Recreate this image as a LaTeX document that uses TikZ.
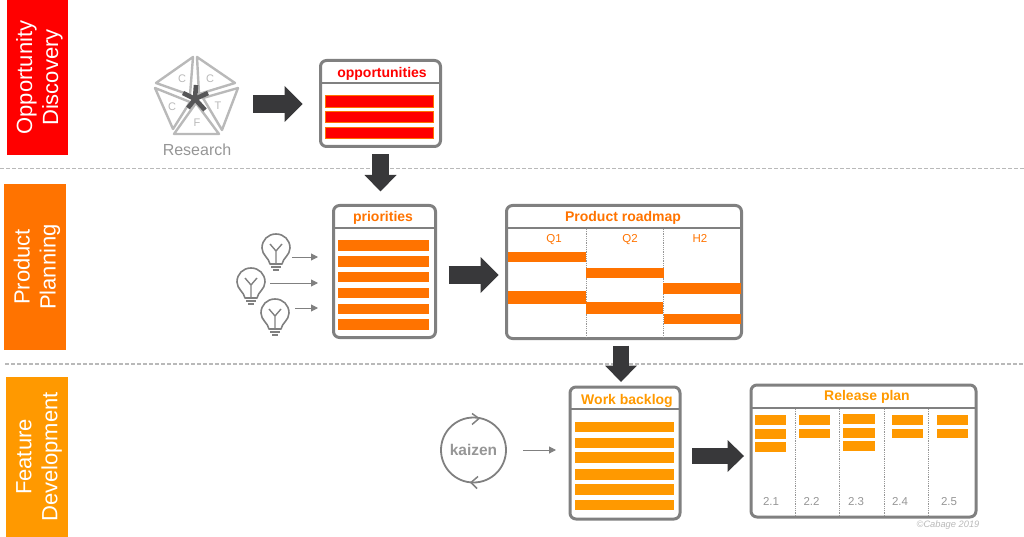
\documentclass[tikz,border=0pt]{standalone}
\usepackage{fontspec}
\setmainfont{Liberation Sans}
\usetikzlibrary{arrows.meta}
\definecolor{stagered}{RGB}{255,0,0}
\definecolor{stageorange}{RGB}{255,115,0}
\definecolor{stageamber}{RGB}{255,153,0}
\definecolor{ink}{RGB}{56,56,58}
\definecolor{frame}{RGB}{128,128,128}
\definecolor{muted}{RGB}{150,150,150}
\definecolor{pale}{RGB}{185,185,185}

\begin{document}
\begin{tikzpicture}[
  x=1pt, y=-1pt,
  stagebox/.style={rectangle, inner sep=0pt},
  stagelabel/.style={rotate=90, inner sep=0pt, text=white, align=center,
    font=\fontsize{22}{26}\selectfont},
  card/.style={rectangle, rounded corners=6pt, draw=frame, line width=3pt, outer sep=0pt, inner sep=0pt},
  cardtitle/.style={font=\fontsize{14}{16}\selectfont\bfseries, inner sep=0pt, yshift=-2pt},
  divider/.style={draw=frame, line width=1.7pt},
  column/.style={draw=muted, line width=0.8pt, densely dotted},
  collabel/.style={font=\fontsize{11.5}{13}\selectfont, inner sep=0pt, text height=8pt, text depth=0pt},
  bigarrow/.style={-{Triangle[length=18pt,width=36pt,line width=0pt]}, draw=ink, line width=18pt},
  smallarrow/.style={-{Triangle[length=16.5pt,width=32pt,line width=0pt]}, draw=ink, line width=16.5pt},
  thinarrow/.style={-{Triangle[length=7pt,width=7pt]}, draw=frame, line width=1pt},
  section/.style={draw=pale, line width=1.3pt, dash pattern=on 4pt off 2pt},
  petal/.style={draw=pale, line width=2.4pt, line join=round},
  spoke/.style={draw=ink!85, line width=4.6pt},
  letter/.style={font=\fontsize{11}{13}\selectfont, text=pale, inner sep=0pt},
  bulbspot/.style={circle, minimum size=32pt, inner sep=0pt, outer sep=0pt},
  bulb/.pic={
    \draw[frame, line width=1.6pt, line join=round] (-6,16) .. controls (-7,10) and (-14,7) .. (-14,0)
      .. controls (-14,-8) and (-8,-14) .. (0,-14) .. controls (8,-14) and (14,-8) .. (14,0)
      .. controls (14,7) and (7,10) .. (6,16) -- cycle;
    \draw[frame, line width=1.4pt] (-6,-4) -- (0,3) -- (6,-4) (0,3) -- (0,16);
    \draw[frame, line width=1.8pt] (-5,19) -- (5,19) (-3,22) -- (3,22);
  }
]
\useasboundingbox (0,0) rectangle (1024,537);

% swimlanes
\node[stagebox, fill=stagered, minimum height=155pt, minimum width=61pt] (discovery) at (37.5,77.5) {};
\node[stagelabel] (discoverylabel) at (39.5,77.5) {Opportunity\\Discovery};
\node[stagebox, fill=stageorange, minimum height=166pt, minimum width=62pt] (planning) at (35,267) {};
\node[stagelabel] (planninglabel) at (37,267) {Product\\Planning};
\node[stagebox, fill=stageamber, minimum height=160pt, minimum width=62pt] (development) at (37,457) {};
\node[stagelabel] (developmentlabel) at (39,457) {Feature\\Development};
\draw[section] (0,168.5) -- (1024,168.5);
\draw[section] (5,364) -- (1024,364);

% research
\node[minimum size=82pt, inner sep=0pt, outer sep=0pt] (research) at (197,104) {};
\draw[petal] (193,57) -- (156,83) -- (190,95) -- cycle;
\draw[petal] (197,57) -- (235,83) -- (199,94) -- cycle;
\draw[petal] (238,88) -- (222,130) -- (203,98) -- cycle;
\draw[petal] (219,134) -- (174,134) -- (196,103) -- cycle;
\draw[petal] (155,88) -- (173,129) -- (190,102) -- cycle;
\foreach \sx/\sy in {196/85, 208/93, 205/110, 188/108, 183/93}
  \draw[spoke] (195,99) -- (\sx,\sy);
\node[letter] (cA) at (182,79) {C};
\node[letter] (cB) at (210,79) {C};
\node[letter] (tA) at (218,106) {T};
\node[letter] (fA) at (197,123) {F};
\node[letter] (cC) at (172,107) {C};
\node[font=\fontsize{16}{18}\selectfont, text=muted, inner sep=0pt] (researchlabel) at (197,150) {Research};

% opportunities
\node[card, minimum width=120pt, minimum height=86pt] (opps) at (380.5,103.5) {};
\draw[divider] (opps.west |- 0,83) -- (opps.east |- 0,83);
\node[cardtitle, text=stagered] (oppstitle) at (382,72) {opportunities};
\foreach \ya/\yb in {95/107, 111/122, 127/138}
  \filldraw[fill=stagered, draw=stageorange, line width=0.5pt] (325.5,\ya) rectangle (433,\yb);

% priorities
\node[card, minimum width=102pt, minimum height=132pt] (prior) at (384.5,271.5) {};
\draw[divider] (prior.west |- 0,228) -- (prior.east |- 0,228);
\node[cardtitle, text=stageorange] (priortitle) at (383,216) {priorities};
\foreach \ya/\yb in {240/251, 256/267, 272/282, 288/298, 304/314, 319/330}
  \fill[stageorange] (338,\ya) rectangle (429,\yb);
\pic at (276,248) {bulb};
\pic at (251,282) {bulb};
\pic at (275,313) {bulb};
\node[bulbspot] (bulbA) at (276,248) {};
\node[bulbspot] (bulbB) at (251,282) {};
\node[bulbspot] (bulbC) at (275,313) {};
\coordinate (inA) at (318,257);
\coordinate (inB) at (318,283);
\coordinate (inC) at (318,308);
\draw[thinarrow] (bulbA.east |- inA) -- (inA);
\draw[thinarrow, shorten <=3pt] (bulbB.east |- inB) -- (inB);
\draw[thinarrow, shorten <=4pt] (bulbC.east |- inC) -- (inC);

% roadmap
\node[card, minimum width=235pt, minimum height=133pt] (roadmap) at (624,272) {};
\draw[divider] (roadmap.west |- 0,228) -- (roadmap.east |- 0,228);
\node[cardtitle, text=stageorange] (roadmaptitle) at (623,216) {Product roadmap};
\draw[column] (586,229) -- (586,338);
\draw[column] (663,229) -- (663,338);
\node[collabel, text=stageorange] (qA) at (554,239) {Q1};
\node[collabel, text=stageorange] (qB) at (630,239) {Q2};
\node[collabel, text=stageorange] (hB) at (700,239) {H2};
\foreach \xa/\xb/\ya/\yb in {507.5/586/252/262, 507.5/586/291/304, 586/663.5/268/278, 586/663/302/314, 663/740.5/283/293.5, 663.5/740.5/314/323.5}
  \fill[stageorange] (\xa,\ya) rectangle (\xb,\yb);

% backlog
\node[card, minimum width=110pt, minimum height=132pt] (backlog) at (625,453) {};
\draw[divider] (backlog.west |- 0,409) -- (backlog.east |- 0,409);
\node[cardtitle, text=stageamber] (backlogtitle) at (627,399) {Work backlog};
\foreach \ya/\yb in {422/432, 438/448, 452/463, 469/480, 484/495, 500/510}
  \fill[stageamber] (574.5,\ya) rectangle (674,\yb);
\node[circle, draw=frame, line width=1.8pt, minimum size=65pt, inner sep=0pt, outer sep=0pt,
  font=\fontsize{15.5}{17}\selectfont\bfseries, text=muted] (kaizen) at (473.5,450) {kaizen};
\draw[frame, line width=1.5pt] ([shift={(-1.5,-4)}]kaizen.north) -- ([shift={(5.5,1)}]kaizen.north) -- ([shift={(-1.5,7)}]kaizen.north);
\draw[frame, line width=1.5pt] ([shift={(4.5,-6)}]kaizen.south) -- ([shift={(-2.5,0)}]kaizen.south) -- ([shift={(3.5,6)}]kaizen.south);
\draw[thinarrow, shorten <=17pt, shorten >=14pt] (kaizen.east) -- (kaizen.east -| backlog.west);

% release plan
\node[card, minimum width=225pt, minimum height=132pt] (release) at (863.5,451) {};
\draw[divider] (release.west |- 0,408) -- (release.east |- 0,408);
\node[cardtitle, text=stageamber] (releasetitle) at (867,395) {Release plan};
\foreach \cx in {795,839,884,928}
  \draw[column] (\cx,409) -- (\cx,517);
\foreach \xa/\xb/\ya/\yb in {755/786/415/425, 755/786/429/439, 755/786/442/452,
    799/830/415/425, 799/830/429/438,
    843/875/414/424, 843/875/428/438, 843/875/441/451,
    892/923/415/425, 892/923/429/438,
    937/968/415/425, 937/968/429/438}
  \fill[stageamber] (\xa,\ya) rectangle (\xb,\yb);
\node[collabel, text=muted] (vA) at (771,501) {2.1};
\node[collabel, text=muted] (vB) at (811.5,501) {2.2};
\node[collabel, text=muted] (vC) at (856,501) {2.3};
\node[collabel, text=muted] (vD) at (900,501) {2.4};
\node[collabel, text=muted] (vE) at (949,501) {2.5};
\node[font=\fontsize{9.3}{11}\selectfont\itshape, text=pale, inner sep=0pt] (copyright) at (948,525) {©Cabage 2019};

% big arrows
\draw[bigarrow, shorten <=15pt, shorten >=18pt] (research.east) -- (research.east -| opps.west);
\draw[smallarrow, shorten <=8pt, shorten >=14pt] (opps.south) -- (opps.south |- prior.north);
\draw[bigarrow, shorten <=13pt, shorten >=8pt] ([yshift=-3.5pt]prior.east) -- ([yshift=-3.5pt]prior.east -| roadmap.west);
\draw[smallarrow, shorten <=7pt, shorten >=5pt] ([xshift=-3pt]roadmap.south) -- ([xshift=-3pt]roadmap.south |- backlog.north);
\draw[smallarrow, shorten <=12pt, shorten >=7pt] ([yshift=-3pt]backlog.east) -- ([yshift=-3pt]backlog.east -| release.west);
\end{tikzpicture}
\end{document}
